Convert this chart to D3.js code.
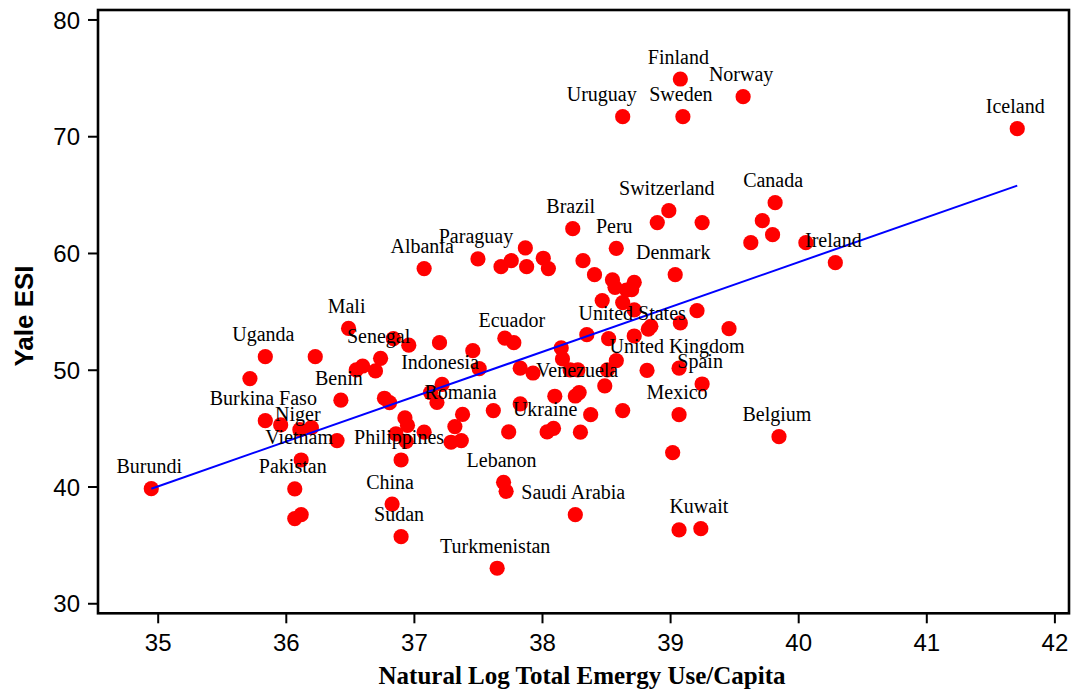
<!DOCTYPE html>
<html>
<head>
<meta charset="utf-8">
<script src="https://cdn.jsdelivr.net/npm/d3@7"></script>
<style>
  html, body { margin: 0; padding: 0; background: #fff; }
  svg { display: block; }
</style>
</head>
<body>
<div id="chart"></div>
<script>
// Country labels ("" = unlabeled point)
const countries = [
  "Finland","Norway","Uruguay","Sweden","Iceland","Canada","Switzerland","","","",
  "Brazil","","","","Ireland","Peru","","Paraguay","Albania","",
  "","","","","","","Denmark","","","",
  "","","","","","","","","","",
  "","","United States","Mali","","","","","","Ecuador",
  "","","Uganda","","","Senegal","","","","",
  "","","","","","","United Kingdom","","Indonesia","",
  "","Benin","","","Spain","","","Venezuela","","",
  "","Romania","","","Mexico","Burkina Faso","","Niger","","",
  "","","","","","","","","Ukraine","",
  "","","Belgium","Vietnam","Philippines","","Lebanon","","Pakistan","",
  "","China","Sudan","Saudi Arabia","","Kuwait","Turkmenistan","Burundi"
];

// Natural log of total emergy use per capita
const emergyUse = [
  39.08,39.57,38.63,39.10,41.71,39.82,38.99,38.90,39.25,39.72,
  38.24,39.80,39.63,40.06,40.29,38.58,37.87,37.50,37.08,37.68,
  37.76,37.88,38.01,38.05,38.32,38.41,39.04,38.55,38.57,38.66,
  38.72,38.70,38.47,38.63,38.72,39.21,39.08,38.85,38.83,39.46,
  38.35,38.52,38.72,36.49,36.84,36.96,37.20,37.46,37.71,37.78,
  38.15,38.16,35.84,36.23,35.72,36.74,36.60,36.55,36.70,37.51,
  37.83,37.93,38.22,38.28,38.51,38.82,39.07,38.58,37.22,37.13,
  37.18,36.43,36.77,36.81,39.25,38.49,38.10,38.29,38.26,37.62,
  37.83,37.38,38.38,38.63,39.07,35.84,35.96,36.11,36.20,36.93,
  36.95,37.32,37.08,36.86,36.94,37.29,37.37,36.40,38.04,38.09,
  37.74,38.30,39.85,36.12,36.90,39.02,37.70,37.72,36.07,36.07,
  36.12,36.83,36.90,38.26,39.07,39.24,37.65,34.95
];

// Yale Environmental Sustainability Index
const esi = [
  74.90,73.39,71.67,71.67,70.65,64.31,63.62,62.60,62.60,62.77,
  62.08,61.57,60.88,60.88,59.17,60.40,60.43,59.49,58.66,58.83,
  59.34,58.83,59.55,58.66,59.34,58.14,58.14,57.69,57.06,56.83,
  57.49,56.86,55.92,55.75,55.12,55.06,54.01,53.72,53.47,53.52,
  53.00,52.66,52.89,53.54,52.66,52.10,52.32,51.63,52.70,52.32,
  51.87,50.92,51.12,51.12,49.24,50.98,50.32,49.98,49.90,50.09,
  50.13,49.72,49.98,49.98,49.98,49.94,50.13,50.78,48.74,48.05,
  47.20,47.39,47.56,47.18,48.78,48.61,47.73,48.04,47.75,46.50,
  47.07,46.17,46.15,46.50,46.15,45.64,45.27,44.87,45.04,45.87,
  45.24,45.13,44.65,44.50,43.86,43.79,43.93,43.93,44.67,44.97,
  44.67,44.65,44.27,42.27,42.27,42.90,40.36,39.59,39.79,37.25,
  37.59,38.50,35.70,37.59,36.28,36.39,33.00,39.81
];

// Least-squares fit line endpoints
const fitX = [34.95, 41.71];
const fitY = [39.81, 65.77];

const xTicks = [35, 36, 37, 38, 39, 40, 41, 42];
const yTicks = [30, 40, 50, 60, 70, 80];

const W = 1071, H = 692;
const plot = { left: 98, right: 1069, top: 10, bottom: 613.3 };

const x = d3.scaleLinear().domain([34.534, 42.114]).range([plot.left, plot.right]);
const y = d3.scaleLinear().domain([29.14, 80.81]).range([plot.bottom, plot.top]);

const svg = d3.select("#chart").append("svg")
  .attr("width", W).attr("height", H);

const points = emergyUse.map((v, i) => ({ name: countries[i], x: v, y: esi[i] }));

// Axes
const xAxis = svg.append("g")
  .attr("transform", `translate(0,${plot.bottom})`)
  .call(d3.axisBottom(x).tickValues(xTicks).tickSize(10).tickSizeOuter(0).tickFormat(d3.format("d")));
xAxis.select(".domain").remove();
xAxis.selectAll(".tick line").attr("stroke", "#000").attr("stroke-width", 2);
xAxis.selectAll(".tick text")
  .attr("y", 20.5).attr("dy", "0.71em")
  .style("font-family", "'Liberation Sans', Arial, sans-serif")
  .style("font-size", "24px").attr("fill", "#000");

const yAxis = svg.append("g")
  .attr("transform", `translate(${plot.left},0)`)
  .call(d3.axisLeft(y).tickValues(yTicks).tickSize(10).tickSizeOuter(0).tickFormat(d3.format("d")));
yAxis.select(".domain").remove();
yAxis.selectAll(".tick line").attr("stroke", "#000").attr("stroke-width", 2);
yAxis.selectAll(".tick text")
  .attr("x", -18).attr("dy", "0.36em")
  .style("font-family", "'Liberation Sans', Arial, sans-serif")
  .style("font-size", "24px").attr("fill", "#000");

// Plot frame
svg.append("rect")
  .attr("x", plot.left).attr("y", plot.top)
  .attr("width", plot.right - plot.left).attr("height", plot.bottom - plot.top)
  .attr("fill", "none").attr("stroke", "#000").attr("stroke-width", 2.6);

// Markers
svg.append("g").selectAll("circle")
  .data(points)
  .join("circle")
  .attr("cx", d => x(d.x))
  .attr("cy", d => y(d.y))
  .attr("r", 7.6)
  .attr("fill", "#ff0000");

// Fit line
svg.append("line")
  .attr("x1", x(fitX[0])).attr("y1", y(fitY[0]))
  .attr("x2", x(fitX[1])).attr("y2", y(fitY[1]))
  .attr("stroke", "#0000ff").attr("stroke-width", 2);

// Country labels, set above each marker; a few are nudged to clear neighbours
const labelShift = { "Niger": [0, 7], "Uruguay": [-19, 0] };
svg.append("g").selectAll("text")
  .data(points.filter(d => d.name))
  .join("text")
  .attr("x", d => x(d.x) - 2 + (labelShift[d.name] ? labelShift[d.name][0] : 0))
  .attr("y", d => y(d.y) - 15.5 + (labelShift[d.name] ? labelShift[d.name][1] : 0))
  .attr("text-anchor", "middle")
  .style("font-family", "'Liberation Serif', 'Times New Roman', serif")
  .style("font-size", "20px")
  .attr("fill", "#000")
  .text(d => d.name);

// Axis titles
svg.append("text")
  .attr("x", 582).attr("y", 684)
  .attr("text-anchor", "middle")
  .style("font-family", "'Liberation Serif', 'Times New Roman', serif")
  .style("font-weight", "bold")
  .style("font-size", "25px")
  .text("Natural Log Total Emergy Use/Capita");

svg.append("text")
  .attr("transform", "translate(33,316) rotate(-90)")
  .attr("text-anchor", "middle")
  .style("font-family", "'Liberation Sans', Arial, sans-serif")
  .style("font-weight", "bold")
  .style("font-size", "26px")
  .text("Yale ESI");
</script>
</body>
</html>
